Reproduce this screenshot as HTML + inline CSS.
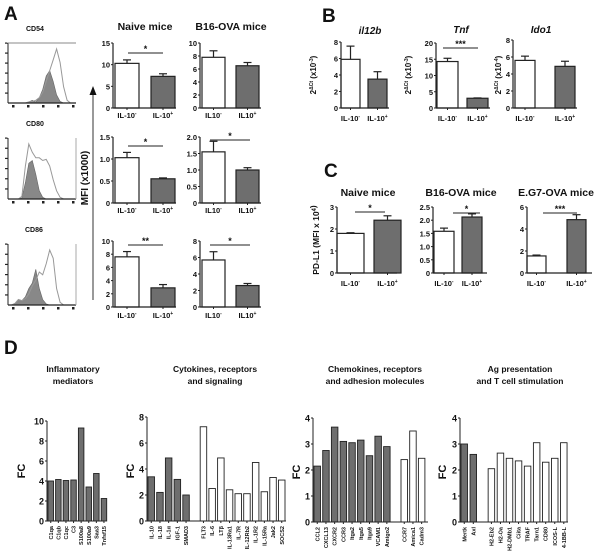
<!DOCTYPE html>
<html><head><meta charset="utf-8"><style>
html,body{margin:0;padding:0;background:#fff;}
svg{display:block;font-family:"Liberation Sans",Arial,sans-serif;}
text{font-weight:bold;fill:#111;}
</style></head><body>
<svg id="fig" width="600" height="558" viewBox="0 0 600 558" xmlns="http://www.w3.org/2000/svg">
<g id="static">
<text x="4" y="20" font-size="19">A</text>
<text x="322" y="22" font-size="19">B</text>
<text x="324" y="177" font-size="19">C</text>
<text x="4" y="354" font-size="19">D</text>
<text x="26" y="31" font-size="7">CD54</text>
<text x="26" y="126" font-size="7">CD80</text>
<text x="25" y="232" font-size="7">CD86</text>
<text x="145" y="30" font-size="10.5" text-anchor="middle">Naive mice</text>
<text x="231" y="30" font-size="10.5" text-anchor="middle">B16-OVA mice</text>
<line x1="93" y1="300" x2="93" y2="94" stroke="#333" stroke-width="1"/>
<polygon points="93,86 89.5,95 96.5,95" fill="#111"/>
<text transform="translate(88,178) rotate(-90)" font-size="10" text-anchor="middle">MFI (x1000)</text>
<text x="370" y="34" font-size="10" font-style="italic" text-anchor="middle">il12b</text>
<text x="461" y="33" font-size="10" font-style="italic" text-anchor="middle">Tnf</text>
<text x="541" y="33" font-size="10" font-style="italic" text-anchor="middle">Ido1</text>
<text x="368" y="196" font-size="10.5" text-anchor="middle">Naive mice</text>
<text x="461" y="196" font-size="10.5" text-anchor="middle">B16-OVA mice</text>
<text x="556" y="196" font-size="10.5" text-anchor="middle">E.G7-OVA mice</text>
<text transform="translate(319,240) rotate(-90)" font-size="8.5" text-anchor="middle">PD-L1 (MFI x 10<tspan font-size="6" dy="-3">4</tspan>)</text>
<g font-size="8.5" text-anchor="middle">
<text x="73" y="372">Inflammatory</text>
<text x="73" y="384">mediators</text>
<text x="215" y="372">Cytokines, receptors</text>
<text x="215" y="384">and signaling</text>
<text x="375" y="372">Chemokines, receptors</text>
<text x="375" y="384">and adhesion molecules</text>
<text x="520" y="372">Ag presentation</text>
<text x="520" y="384">and T cell stimulation</text>
</g>
</g>
<g id="charts"></g>
</svg>
<script>
// ---- Panel A data ----
const aNaiveCD54 = [10.3, 7.3], aNaiveCD54Err = [0.8, 0.6];
const aB16CD54 = [7.8, 6.5], aB16CD54Err = [1.0, 0.5];
const aNaiveCD80 = [1.03, 0.55], aNaiveCD80Err = [0.12, 0.02];
const aB16CD80 = [1.55, 1.0], aB16CD80Err = [0.32, 0.07];
const aNaiveCD86 = [7.6, 2.9], aNaiveCD86Err = [0.8, 0.5];
const aB16CD86 = [5.7, 2.6], aB16CD86Err = [1.0, 0.25];
const ticksA1n = [0, 5, 10, 15], ticksA1b = [0, 2, 4, 6, 8, 10];
const ticksA2n = [0, 0.5, 1.0, 1.5], ticksA2b = [0, 0.5, 1.0, 1.5, 2.0];
const ticksA3n = [0, 2, 4, 6, 8, 10], ticksA3b = [0, 2, 4, 6, 8];
// ---- Panel B data ----
const bIl12b = [5.9, 3.5], bIl12bErr = [1.6, 0.9];
const bTnf = [14.3, 3.0], bTnfErr = [1.0, 0.1];
const bIdo1 = [5.6, 4.9], bIdo1Err = [0.5, 0.6];
const ticksB1 = [0, 2, 4, 6, 8], ticksB2 = [0, 5, 10, 15, 20], ticksB3 = [0, 2, 4, 6, 8];
// ---- Panel C data ----
const cNaive = [1.8, 2.4], cNaiveErr = [0.03, 0.2];
const cB16 = [1.58, 2.12], cB16Err = [0.12, 0.12];
const cEG7 = [1.55, 4.85], cEG7Err = [0.08, 0.45];
const ticksC1 = [0, 1, 2, 3], ticksC2 = [0, 0.5, 1.0, 1.5, 2.0, 2.5], ticksC3 = [0, 2, 4, 6];
// ---- Panel D data ----
const d1Genes = ["C1qa","C1qb","C1qc","C3","S100a8","S100a9","Saa3","Tnfsf15"];
const d1Values = [4.0, 4.15, 4.05, 4.1, 9.3, 3.4, 4.75, 2.25];
const d2GenesDown = ["IL-10","IL-18","IL-1α","IGF-1","SMAD3"];
const d2ValuesDown = [3.4, 2.2, 4.85, 3.2, 2.0];
const d2GenesUp = ["FLT3","IL-6","LTβ","IL-13Ra1","IL-7R","IL-12Rb2","IL-1R2","IL-15Ra","Jak2","SOCS2"];
const d2ValuesUp = [7.25, 2.5, 4.85, 2.4, 2.1, 2.1, 4.5, 2.25, 3.35, 3.15];
const d3GenesDown = ["CCL2","CXCL13","CXCR2","CCR3","Itga2","Itga5","Itga9","VCAM1","Amigo2"];
const d3ValuesDown = [2.15, 2.75, 3.65, 3.1, 3.05, 3.15, 2.55, 3.3, 2.9];
const d3GenesUp = ["CCR7","Amica1","Cadm3"];
const d3ValuesUp = [2.4, 3.5, 2.45];
const d4GenesDown = ["Mertk","Axl"];
const d4ValuesDown = [3.0, 2.6];
const d4GenesUp = ["H2-Eb2","H2-Oa","H2-DMb1","Ciita","TRAF","Tarn1","CD80","ICOS-L","4-1BB-L"];
const d4ValuesUp = [2.05, 2.65, 2.45, 2.35, 2.15, 3.05, 2.3, 2.45, 3.05];
const ticksD1 = [0, 2, 4, 6, 8, 10], ticksD2 = [0, 2, 4, 6, 8], ticksD3 = [0, 1, 2, 3, 4];
// histograms (shape profiles)
const hCD54Open = [0,0,0,0,0,0,0.02,0.03,0.05,0.1,0.2,0.4,0.6,0.8,1.0,0.75,0.3,0.05,0,0];
const hCD54Fill = [0,0,0,0,0,0,0.02,0.05,0.02,0.1,0.25,0.5,0.6,0.4,0.15,0.03,0,0,0,0];
const hCD80Open = [0,0,0,0,0.05,0.6,1.0,0.85,0.75,0.75,0.7,0.72,0.6,0.35,0.15,0.03,0,0,0,0];
const hCD80Fill = [0,0,0,0,0.02,0.3,0.65,0.7,0.45,0.15,0.03,0,0,0,0,0,0,0,0,0];
const hCD86Open = [0,0,0.03,0.1,0.08,0.12,0.2,0.35,0.45,0.6,0.55,0.75,1.0,0.85,0.3,0.05,0,0,0,0];
const hCD86Fill = [0,0,0.03,0.1,0.08,0.15,0.3,0.4,0.65,0.3,0.1,0.02,0,0,0,0,0,0,0,0];

const NS = "http://www.w3.org/2000/svg";
const root = document.getElementById("charts");
function mk(tag, attrs, parent) {
  const e = document.createElementNS(NS, tag);
  for (const k in attrs) e.setAttribute(k, attrs[k]);
  (parent || root).appendChild(e);
  return e;
}
function fmt(v, dec) { return dec ? v.toFixed(dec) : String(v); }

function pairChart(name, ax, yTop, yBot, right, ticks, dec, vals, errs, bx, bw, labels, labY, sig) {
  const g = mk("g", {});
  
  
  const max = ticks[ticks.length - 1];
  const sy = v => yBot - (v / max) * (yBot - yTop);
  vals.forEach((v, i) => {
    const x = bx[i];
    const bar = mk("rect", {x: x, y: sy(v), width: bw, height: yBot - sy(v), fill: i ? "#6e6e6e" : "#fff", stroke: "#222", "stroke-width": 1.2}, g);
    
    
    const ye = sy(v + errs[i]);
    mk("line", {x1: x + bw / 2, x2: x + bw / 2, y1: sy(v), y2: ye, stroke: "#222", "stroke-width": 1.2}, g);
    mk("line", {x1: x + bw / 2 - 4, x2: x + bw / 2 + 4, y1: ye, y2: ye, stroke: "#222", "stroke-width": 1.2}, g);
    const t = mk("text", {x: x + bw / 2, y: labY, "font-size": 7.5, "text-anchor": "middle"}, g);
    
    
    t.textContent = labels[0];
    const s = mk("tspan", {"font-size": 5, dy: -3}, t);
    s.textContent = i ? "+" : "-";
    mk("line", {x1: x + bw / 2, x2: x + bw / 2, y1: yBot, y2: yBot + 2, stroke: "#222"}, g);
  });
  mk("line", {x1: ax, x2: ax, y1: yTop, y2: yBot, stroke: "#222", "stroke-width": 1.2}, g);
  mk("line", {x1: ax, x2: right, y1: yBot, y2: yBot, stroke: "#222", "stroke-width": 1.2}, g);
  ticks.forEach(tv => {
    mk("line", {x1: ax - 2, x2: ax, y1: sy(tv), y2: sy(tv), stroke: "#222"}, g);
    const t = mk("text", {x: ax - 3, y: sy(tv) + 3, "font-size": 7.5, "text-anchor": "end"}, g);
    
    
    t.textContent = tv === 0 ? "0" : fmt(tv, dec);
  });
  if (sig) {
    mk("line", {x1: sig[0], x2: sig[1], y1: sig[2], y2: sig[2], stroke: "#222", "stroke-width": 1}, g);
    const t = mk("text", {x: (sig[0] + sig[1]) / 2, y: sig[2] - 1, "font-size": 9, "text-anchor": "middle"}, g);
    
    
    t.textContent = sig[3];
  }
  return g;
}

const nX = [115, 151], bX = [202, 236];
pairChart("a-naive-cd54", 113, 43, 108, 176, ticksA1n, 0, aNaiveCD54, aNaiveCD54Err, nX, 24, ["IL-10"], 118, [128, 163, 53, "*"]);
pairChart("a-b16-cd54", 200, 43, 108, 261, ticksA1b, 0, aB16CD54, aB16CD54Err, bX, 23, ["IL10"], 118, null);
pairChart("a-naive-cd80", 113, 137, 203, 176, ticksA2n, 1, aNaiveCD80, aNaiveCD80Err, nX, 24, ["IL-10"], 213, [128, 163, 146, "*"]);
pairChart("a-b16-cd80", 200, 137, 203, 261, ticksA2b, 1, aB16CD80, aB16CD80Err, bX, 23, ["IL10"], 213, [210, 250, 140, "*"]);
pairChart("a-naive-cd86", 113, 241, 307, 176, ticksA3n, 0, aNaiveCD86, aNaiveCD86Err, nX, 24, ["IL-10"], 318, [128, 163, 245, "**"]);
pairChart("a-b16-cd86", 200, 241, 307, 261, ticksA3b, 0, aB16CD86, aB16CD86Err, bX, 23, ["IL10"], 318, [210, 250, 245, "*"]);
pairChart("b-il12b", 341, 42, 108, 389, ticksB1, 0, bIl12b, bIl12bErr, [341, 368], 19, ["IL-10"], 121, null);
pairChart("b-tnf", 436, 43, 108, 490, ticksB2, 0, bTnf, bTnfErr, [437, 467], 21, ["IL-10"], 121, [443, 478, 48, "***"]);
pairChart("b-ido1", 513, 40, 108, 577, ticksB3, 0, bIdo1, bIdo1Err, [515, 555], 20, ["IL-10"], 121, null);
[["b-il12b-y-title", 316, "-3"], ["b-tnf-y-title", 411, "-3"], ["b-ido1-y-title", 501, "-4"]].forEach(a => {
  const t = mk("text", {transform: "translate(" + a[1] + ",75) rotate(-90)", "font-size": 8, "text-anchor": "middle"});
  
  
  t.textContent = "2";
  const s1 = mk("tspan", {"font-size": 5, dy: -3}, t); s1.textContent = "ΔCt";
  const s2 = mk("tspan", {dy: 3}, t); s2.textContent = " (x10";
  const s3 = mk("tspan", {"font-size": 5, dy: -3}, t); s3.textContent = a[2];
  const s4 = mk("tspan", {dy: 3}, t); s4.textContent = ")";
});
pairChart("c-naive", 337, 207, 273, 397, ticksC1, 0, cNaive, cNaiveErr, [337, 374], 27, ["IL-10"], 286, [355, 385, 212, "*"]);
pairChart("c-b16", 433, 207, 273, 487, ticksC2, 1, cB16, cB16Err, [434, 462], 20, ["IL-10"], 286, [453, 480, 213, "*"]);
pairChart("c-eg7", 527, 207, 273, 592, ticksC3, 0, cEG7, cEG7Err, [527, 567], 19, ["IL-10"], 286, [543, 577, 213, "***"]);

function fcChart(name, ax, yTop, yBot, right, ticks, slot, bw, groups, fcX) {
  const g = mk("g", {});
  
  
  const max = ticks[ticks.length - 1];
  const sy = v => yBot - (v / max) * (yBot - yTop);
  groups.forEach(grp => {
    grp.vals.forEach((v, i) => {
      const x = ax + 1 + (grp.start + i) * slot;
      const r = mk("rect", {x: x, y: sy(v), width: bw, height: yBot - sy(v), fill: grp.fill, stroke: "#222", "stroke-width": 0.9}, g);
      
      
      mk("line", {x1: x + bw / 2, x2: x + bw / 2, y1: yBot, y2: yBot + 2, stroke: "#222"}, g);
      const t = mk("text", {transform: "translate(" + (x + bw / 2 + 2) + "," + (yBot + 5) + ") rotate(-90)", "font-size": 5.5, "text-anchor": "end"}, g);
      
      
      t.textContent = grp.names[i];
    });
  });
  mk("line", {x1: ax, x2: ax, y1: yTop, y2: yBot, stroke: "#222", "stroke-width": 1}, g);
  mk("line", {x1: ax, x2: right, y1: yBot, y2: yBot, stroke: "#222", "stroke-width": 1}, g);
  ticks.forEach(tv => {
    mk("line", {x1: ax - 2, x2: ax, y1: sy(tv), y2: sy(tv), stroke: "#222"}, g);
    const t = mk("text", {x: ax - 3, y: sy(tv) + 3.5, "font-size": 9, "text-anchor": "end"}, g);
    
    
    t.textContent = tv;
  });
  const f = mk("text", {transform: "translate(" + fcX + "," + (yBot - 50) + ") rotate(-90)", "font-size": 11, "text-anchor": "middle"}, g);
  
  
  f.textContent = "FC";
}
fcChart("d-inflammatory", 47, 421, 521, 104, ticksD1, 7.6, 5.5, [{start: 0, vals: d1Values, names: d1Genes, fill: "#6e6e6e"}], 25);
fcChart("d-cytokines", 147, 417, 521, 286, ticksD2, 8.7, 6.5, [{start: 0, vals: d2ValuesDown, names: d2GenesDown, fill: "#6e6e6e"}, {start: 6, vals: d2ValuesUp, names: d2GenesUp, fill: "#fff"}], 134);
fcChart("d-chemokines", 313, 418, 522, 428, ticksD3, 8.7, 6.5, [{start: 0, vals: d3ValuesDown, names: d3GenesDown, fill: "#6e6e6e"}, {start: 10, vals: d3ValuesUp, names: d3GenesUp, fill: "#fff"}], 300);
fcChart("d-ag-presentation", 460, 418, 522, 568, ticksD3, 9.05, 6.5, [{start: 0, vals: d4ValuesDown, names: d4GenesDown, fill: "#6e6e6e"}, {start: 3, vals: d4ValuesUp, names: d4GenesUp, fill: "#fff"}], 446);

function hist(name, top, bot, open, fill, frameTop) {
  const g = mk("g", {});
  
  
  const x0 = 8, x1 = 74, n = open.length;
  const sx = i => x0 + i * (x1 - x0) / (n - 1);
  const sy = v => bot - v * (bot - top - 6);
  let pf = "M" + x0 + "," + bot;
  fill.forEach((v, i) => pf += " L" + sx(i).toFixed(1) + "," + sy(v).toFixed(1));
  pf += " L" + x1 + "," + bot + " Z";
  mk("path", {d: pf, fill: "#888", stroke: "#666", "stroke-width": 0.6}, g);
  let po = "M" + x0 + "," + bot;
  open.forEach((v, i) => po += " L" + sx(i).toFixed(1) + "," + sy(v).toFixed(1));
  mk("path", {d: po, fill: "none", stroke: "#999", "stroke-width": 1}, g);
  mk("line", {x1: x0, x2: x0, y1: top, y2: bot, stroke: "#222"}, g);
  mk("line", {x1: x0, x2: x1 + 2, y1: bot, y2: bot, stroke: "#222", "stroke-width": 1.2}, g);
  if (frameTop) mk("line", {x1: x0, x2: x1 + 2, y1: top, y2: top, stroke: "#888"}, g);
  else mk("line", {x1: x1 + 2, x2: x1 + 2, y1: top, y2: bot, stroke: "#aaa"}, g);
  for (let k = 0; k < 6; k++) mk("rect", {x: x0 - 3, y: top + k * (bot - top) / 6 - 0.5, width: 2.5, height: 1.2, fill: "#222"}, g);
  [0, 1, 2, 3, 4].forEach(k => mk("rect", {x: x0 + 4 + k * 15, y: bot + 2, width: 2.5, height: 2.5, fill: "#222"}, g));
}
hist("cd54-histogram", 43, 103, hCD54Open, hCD54Fill, true);
hist("cd80-histogram", 138, 199, hCD80Open, hCD80Fill, false);
hist("cd86-histogram", 244, 305, hCD86Open, hCD86Fill, false);
</script>
</body></html>
